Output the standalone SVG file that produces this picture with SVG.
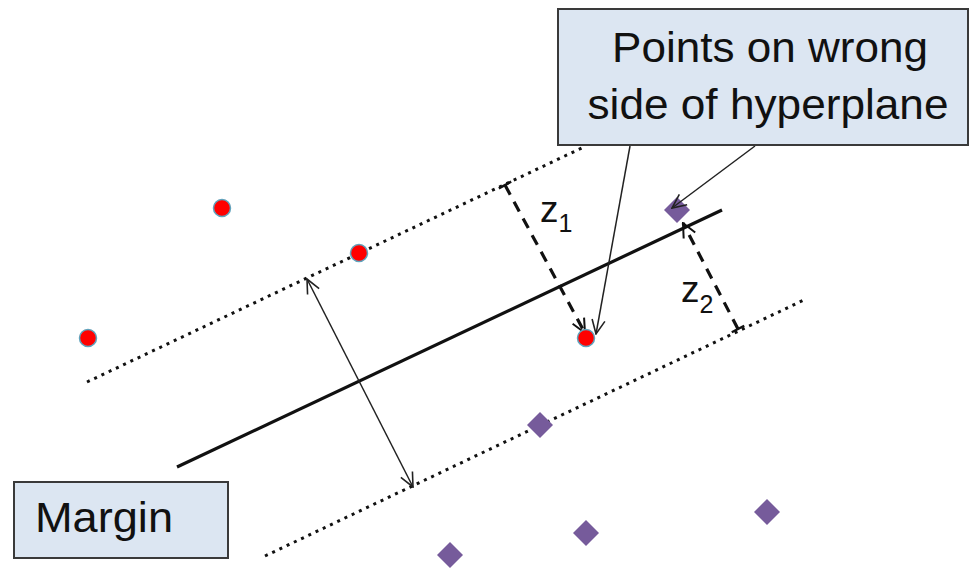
<svg xmlns="http://www.w3.org/2000/svg" width="969" height="568" viewBox="0 0 969 568">
<style>
.box{fill:#dce6f2;stroke:#3a3a3a;stroke-width:2}
.lbl{font-family:"Liberation Sans",Arial,sans-serif;fill:#111;font-size:42px}
.z{font-family:"Liberation Sans",Arial,sans-serif;fill:#111;font-size:37px}
.sub{font-size:25px}
.dot{fill:none;stroke:#111;stroke-width:3;stroke-dasharray:3 5}
.hyper{fill:none;stroke:#111;stroke-width:3.2}
.thin{fill:none;stroke:#222;stroke-width:1.5}
.dash{fill:none;stroke:#111;stroke-width:3.2;stroke-dasharray:11 8}
.red{fill:#ff0000;stroke:#5fa3bd;stroke-width:1.5}
.dia{fill:#765b9b}
</style>
<defs>
<marker id="open" viewBox="0 0 16 16" refX="15" refY="8" markerWidth="16" markerHeight="16" markerUnits="userSpaceOnUse" orient="auto-start-reverse">
<path d="M1,1.5 L15,8 L1,14.5" fill="none" stroke="#222" stroke-width="1.6"/>
</marker>
<marker id="openz" viewBox="0 0 16 16" refX="15" refY="8" markerWidth="16" markerHeight="16" markerUnits="userSpaceOnUse" orient="auto">
<path d="M1,1.5 L15,8 L1,14.5" fill="none" stroke="#111" stroke-width="2"/>
</marker>
<marker id="bar" viewBox="0 0 4 16" refX="2" refY="8" markerWidth="4" markerHeight="16" markerUnits="userSpaceOnUse" orient="auto">
<path d="M2,1 L2,15" fill="none" stroke="#111" stroke-width="2.4"/>
</marker>
</defs>
<g id="connectors">
<line class="dot" x1="87" y1="382" x2="586" y2="146"/>
<line class="dot" x1="265" y1="556" x2="806" y2="299"/>
<line class="hyper" x1="177" y1="467" x2="722" y2="210"/>
<line class="thin" x1="307" y1="279" x2="413" y2="487" marker-start="url(#open)" marker-end="url(#open)"/>
<line class="dash" x1="505" y1="185" x2="585" y2="333" marker-start="url(#bar)" marker-end="url(#openz)"/>
<line class="dash" x1="738" y1="329" x2="683" y2="223" marker-start="url(#bar)" marker-end="url(#openz)"/>
</g>
<g id="points">
<circle class="red" cx="222" cy="208" r="8.5"/>
<circle class="red" cx="359" cy="253" r="8.5"/>
<circle class="red" cx="88" cy="338" r="8.5"/>
<circle class="red" cx="586" cy="338" r="8.5"/>
<path class="dia" d="M677,197 L690,210 L677,223 L664,210 Z"/>
<path class="dia" d="M540,412 L553,425 L540,438 L527,425 Z"/>
<path class="dia" d="M586,520 L599,533 L586,546 L573,533 Z"/>
<path class="dia" d="M450,542 L463,555 L450,568 L437,555 Z"/>
<path class="dia" d="M767,499 L780,512 L767,525 L754,512 Z"/>
</g>
<g id="callout-arrows">
<line class="thin" x1="630" y1="146" x2="596" y2="334" marker-end="url(#open)"/>
<line class="thin" x1="755" y1="146" x2="672" y2="208" marker-end="url(#open)"/>
</g>
<g id="z1"><text class="z" x="540" y="222">z<tspan class="sub" dy="10">1</tspan></text></g>
<g id="z2"><text class="z" x="681" y="302">z<tspan class="sub" dy="11">2</tspan></text></g>
<g id="wrong-side-box">
<rect class="box" x="558" y="9" width="410" height="136"/>
<text class="lbl" x="770" y="62" text-anchor="middle" textLength="316" lengthAdjust="spacingAndGlyphs">Points on wrong</text>
<text class="lbl" x="768" y="119" text-anchor="middle" textLength="361" lengthAdjust="spacingAndGlyphs">side of hyperplane</text>
</g>
<g id="margin-box">
<rect class="box" x="14" y="482" width="214" height="76"/>
<text class="lbl" x="35" y="532" textLength="138" lengthAdjust="spacingAndGlyphs">Margin</text>
</g>
</svg>
